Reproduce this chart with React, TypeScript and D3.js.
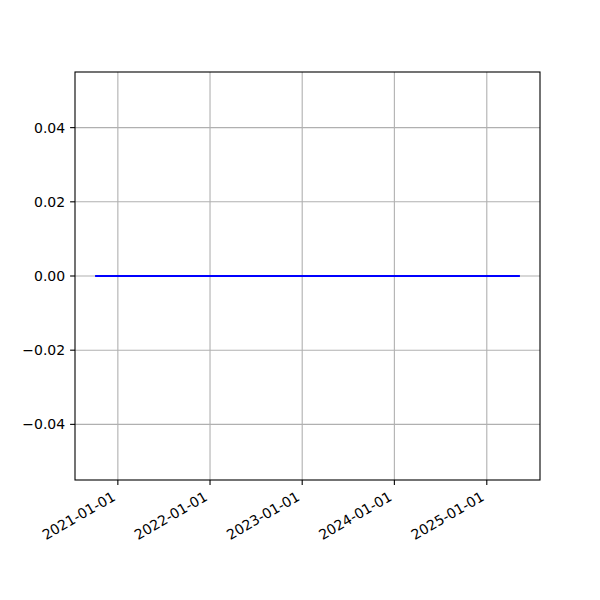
import { useEffect, useRef } from 'react';
import * as d3 from 'd3';

// series: flat line at zero
const dates = ['2020-10-07', '2021-06-01', '2022-06-01', '2023-06-01', '2024-06-01', '2025-05-08'];
const values = [0, 0, 0, 0, 0, 0];
const xTickLabels = ['2021-01-01', '2022-01-01', '2023-01-01', '2024-01-01', '2025-01-01'];
const yTicks = [-0.04, -0.02, 0, 0.02, 0.04];

const App = () => {
  const svgRef = useRef<SVGSVGElement>(null);

  useEffect(() => {
    if (!svgRef.current) return;
    const svg = d3.select(svgRef.current);
    svg.selectAll('*').remove();

    const width = 600;
    const height = 600;
    const margin = { top: 72, right: 60, bottom: 120, left: 75 };
    const innerW = width - margin.left - margin.right;
    const innerH = height - margin.top - margin.bottom;
    const font = 'DejaVu Sans, sans-serif';
    const fontSize = 14;

    const parse = d3.utcParse('%Y-%m-%d');
    const data = dates.map((d, i) => ({ date: parse(d) as Date, value: values[i] }));

    // matplotlib style 5% padding on the date extent
    const [d0, d1] = d3.extent(data, d => d.date) as [Date, Date];
    const pad = (d1.getTime() - d0.getTime()) * 0.05;
    const x = d3.scaleUtc()
      .domain([new Date(d0.getTime() - pad), new Date(d1.getTime() + pad)])
      .range([margin.left, margin.left + innerW]);

    const y = d3.scaleLinear()
      .domain([-0.055, 0.055])
      .range([margin.top + innerH, margin.top]);

    svg.append('rect')
      .attr('width', width)
      .attr('height', height)
      .attr('fill', 'white');

    const xTicks = xTickLabels.map(s => parse(s) as Date);

    // grid
    svg.append('g')
      .selectAll('line.vx')
      .data(xTicks)
      .join('line')
      .attr('x1', d => x(d))
      .attr('x2', d => x(d))
      .attr('y1', margin.top)
      .attr('y2', margin.top + innerH)
      .attr('stroke', '#b0b0b0')
      .attr('stroke-width', 1.1);

    svg.append('g')
      .selectAll('line.hy')
      .data(yTicks)
      .join('line')
      .attr('x1', margin.left)
      .attr('x2', margin.left + innerW)
      .attr('y1', d => y(d))
      .attr('y2', d => y(d))
      .attr('stroke', '#b0b0b0')
      .attr('stroke-width', 1.1);

    // line (matplotlib uses projecting caps)
    const line = d3.line<{ date: Date; value: number }>()
      .x(d => x(d.date))
      .y(d => y(d.value));

    svg.append('path')
      .datum(data)
      .attr('d', line)
      .attr('fill', 'none')
      .attr('stroke', 'blue')
      .attr('stroke-width', 2.1)
      .attr('stroke-linecap', 'square');

    // frame
    svg.append('rect')
      .attr('x', margin.left)
      .attr('y', margin.top)
      .attr('width', innerW)
      .attr('height', innerH)
      .attr('fill', 'none')
      .attr('stroke', 'black')
      .attr('stroke-width', 1.1);

    // x ticks
    const bottom = margin.top + innerH;
    const xg = svg.append('g');
    xg.selectAll('line')
      .data(xTicks)
      .join('line')
      .attr('x1', d => x(d))
      .attr('x2', d => x(d))
      .attr('y1', bottom)
      .attr('y2', bottom + 4.9)
      .attr('stroke', 'black')
      .attr('stroke-width', 1.1);

    xg.selectAll('text')
      .data(xTicks)
      .join('text')
      .attr('transform', d => `translate(${x(d) - 3.5},${bottom + 16}) rotate(-30)`)
      .attr('text-anchor', 'end')
      .attr('dominant-baseline', 'middle')
      .attr('font-family', font)
      .attr('font-size', fontSize)
      .attr('fill', 'black')
      .text((d, i) => xTickLabels[i]);

    // y ticks
    const yg = svg.append('g');
    yg.selectAll('line')
      .data(yTicks)
      .join('line')
      .attr('x1', margin.left - 4.9)
      .attr('x2', margin.left)
      .attr('y1', d => y(d))
      .attr('y2', d => y(d))
      .attr('stroke', 'black')
      .attr('stroke-width', 1.1);

    yg.selectAll('text')
      .data(yTicks)
      .join('text')
      .attr('x', margin.left - 9.8)
      .attr('y', d => y(d))
      .attr('text-anchor', 'end')
      .attr('dominant-baseline', 'central')
      .attr('font-family', font)
      .attr('font-size', fontSize)
      .attr('fill', 'black')
      .text(d => d3.format('.2f')(d).replace('-', '\u2212'));
  }, []);

  return (
    <svg
      ref={svgRef}
      width={600}
      height={600}
      style={{ position: 'absolute', left: 0, top: 0, display: 'block' }}
    />
  );
};

export default App;
